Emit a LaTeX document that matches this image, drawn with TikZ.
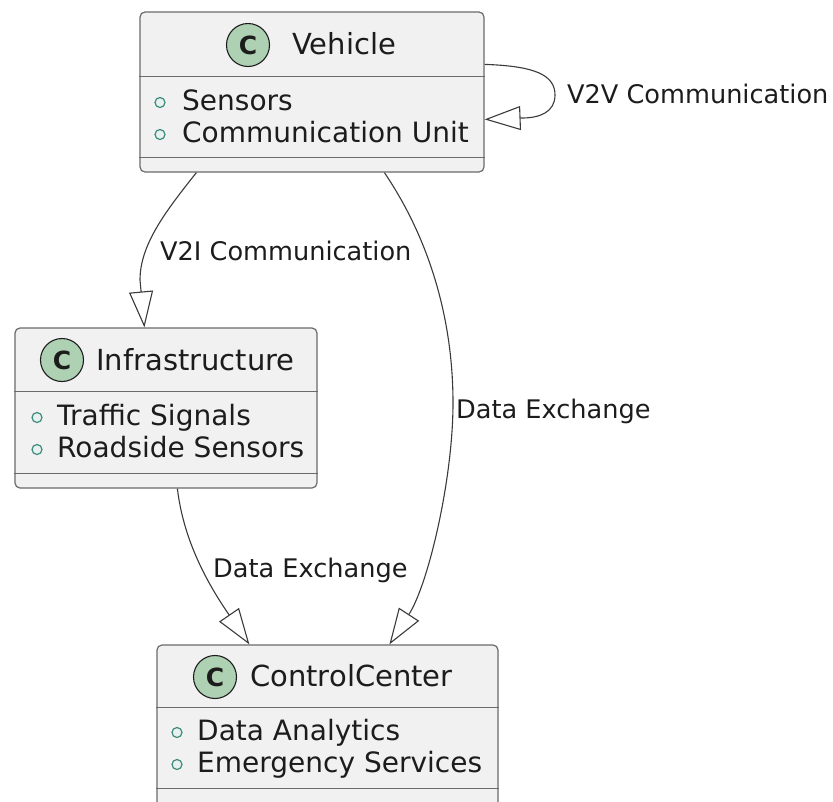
\documentclass[tikz,border=0pt]{standalone}
\usepackage{fontspec}
\setmainfont{DejaVu Sans}
\usetikzlibrary{arrows.meta}
\definecolor{boxfill}{HTML}{F1F1F1}
\definecolor{boxline}{HTML}{6A6A6A}
\definecolor{spot}{HTML}{ADD1B2}
\definecolor{edge}{HTML}{3A3A3A}
\definecolor{fieldmark}{HTML}{3C8C7C}
\definecolor{ink}{HTML}{1C1C1C}

\begin{document}
\begin{tikzpicture}[x=1pt,y=-1pt,
  classbox/.style={draw=boxline, fill=boxfill, line width=1.2pt, rounded corners=5pt, inner sep=0pt},
  sep/.style={draw=boxline, line width=1.2pt},
  spotc/.style={circle, draw=ink, fill=spot, line width=1.1pt, minimum size=43pt, inner sep=0pt,
    font=\fontsize{25}{25}\selectfont\bfseries, text=ink},
  title/.style={anchor=base west, inner sep=0pt, font=\fontsize{29}{29}\selectfont, text=ink},
  member/.style={anchor=base west, inner sep=0pt, font=\fontsize{28}{28}\selectfont, text=ink},
  bullet/.style={circle, draw=fieldmark, fill=fieldmark!12, line width=1.2pt, minimum size=10pt, inner sep=0pt},
  rel/.style={draw=edge, line width=1.1pt, -{Triangle[open, length=36pt, width=24pt, line width=1.1pt]}},
  lab/.style={anchor=base west, inner sep=0pt, font=\fontsize{25.6}{26}\selectfont, text=ink}]

\useasboundingbox (0,0) rectangle (833,801);

% class boxes
\node[classbox, minimum width=344pt, minimum height=160pt] (veh) at (312,92) {};
\node[classbox, minimum width=302pt, minimum height=160pt] (infra) at (166,408) {};
\node[classbox, minimum width=341pt, minimum height=170pt] (cc) at (327.5,730) {};

% compartment separators
\draw[sep] ([yshift=-65pt]veh.north west) -- ([yshift=-65pt]veh.north east);
\draw[sep] ([yshift=15pt]veh.south west) -- ([yshift=15pt]veh.south east);
\draw[sep] ([yshift=-64pt]infra.north west) -- ([yshift=-64pt]infra.north east);
\draw[sep] ([yshift=15pt]infra.south west) -- ([yshift=15pt]infra.south east);
\draw[sep] ([yshift=-63pt]cc.north west) -- ([yshift=-63pt]cc.north east);
\draw[sep] ([yshift=-144pt]cc.north west) -- ([yshift=-144pt]cc.north east);

% class headers
\node[spotc] (vehspot) at (248,45) {C};
\node[title] (vehname) at (292,54) {Vehicle};
\node[spotc] (infraspot) at (62,360) {C};
\node[title] (infraname) at (96,370) {Infrastructure};
\node[spotc] (ccspot) at (215,677) {C};
\node[title] (ccname) at (250,686) {ControlCenter};

% fields
\node[bullet] (vb1) at (160,102.5) {};
\node[member] (vm1) at (182,110) {Sensors};
\node[bullet] (vb2) at (160,134.5) {};
\node[member] (vm2) at (182,142) {Communication Unit};

\node[bullet] (ib1) at (37,417.5) {};
\node[member] (im1) at (57,425) {Traffic Signals};
\node[bullet] (ib2) at (37,449.5) {};
\node[member] (im2) at (57,457) {Roadside Sensors};

\node[bullet] (cb1) at (177,732.5) {};
\node[member] (cm1) at (197,740) {Data Analytics};
\node[bullet] (cb2) at (177,764.5) {};
\node[member] (cm2) at (197,772) {Emergency Services};

% relations
\draw[rel] ([yshift=-53pt]veh.north east) .. controls (535,66) and (555,75) .. (555,95)
  .. controls (555,112) and (540,118) .. (522,118) -- ([yshift=-108pt]veh.north east);
\draw[rel] ([xshift=57pt]veh.south west) .. controls (165,212) and (140,245) .. (140,280)
  -- ([xshift=130pt]infra.north west);
\draw[rel] ([xshift=245pt]veh.south west) .. controls (430,240) and (453,320) .. (453,403)
  .. controls (453,480) and (428,585) .. ([xshift=233pt]cc.north west);
\draw[rel] ([xshift=163pt]infra.south west) .. controls (184,545) and (212,590)
  .. ([xshift=93pt]cc.north west);

% relation labels
\node[lab] (l4) at (567,103) {V2V Communication};
\node[lab] (l1) at (160,260) {V2I Communication};
\node[lab] (l2) at (456,418) {Data Exchange};
\node[lab] (l3) at (213,577) {Data Exchange};
\end{tikzpicture}
\end{document}
